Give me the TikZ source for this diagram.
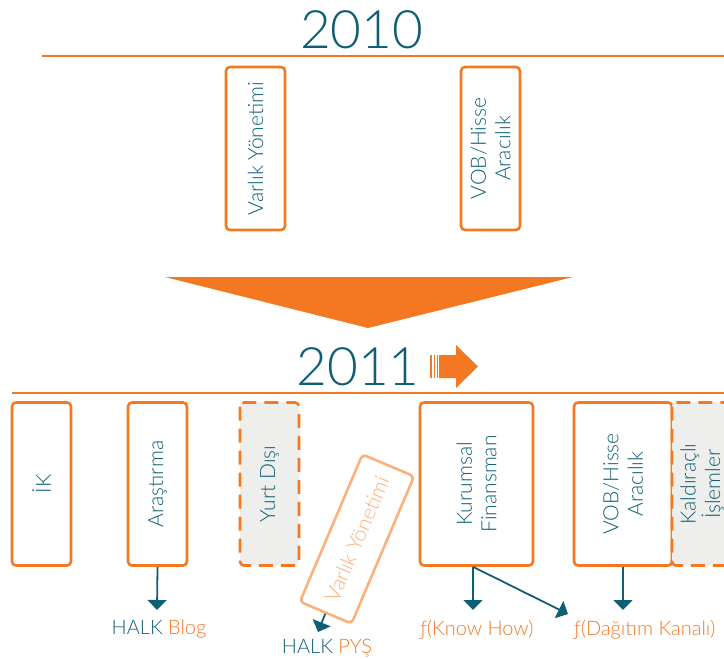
\documentclass[tikz,border=0pt]{standalone}
\usepackage{fontspec}
\setmainfont{Lato}[UprightFont={* Light}]
\usetikzlibrary{arrows.meta}
\definecolor{brandorange}{HTML}{F47721}
\definecolor{lightorange}{HTML}{FBB07D}
\definecolor{deepteal}{HTML}{0F5F74}
\definecolor{panelgray}{HTML}{EEEEEC}

\begin{document}
\begin{tikzpicture}[x=1pt,y=-1pt,
  unitbox/.style={draw=brandorange, line width=2.6pt, rounded corners=4pt,
    rotate=90, minimum width=163pt, minimum height=59pt, inner sep=0pt,
    text=deepteal, font=\fontsize{21}{24.5}\selectfont, align=center},
  plannedbox/.style={unitbox, dash pattern=on 14pt off 8pt, fill=panelgray},
  year/.style={text=deepteal, font=\fontsize{53}{53}\selectfont, inner sep=0pt, anchor=base},
  rule/.style={brandorange, line width=1.6pt},
  flow/.style={deepteal, line width=1.8pt, -{Triangle[width=19pt,length=10pt]}},
  outcome/.style={font=\fontsize{20}{20}\selectfont, anchor=base, inner sep=0pt}
]
\useasboundingbox (0,0) rectangle (724,659);
\clip (0,0) rectangle (724,659);

% 2010
\node[year] (y2010) at (361.5,48) {2010};
\draw[rule] (42,56) -- (724,56);
\node[unitbox] (vy10) at (255.5,148.5) {Varlık Yönetimi};
\node[unitbox] (vob10) at (490.5,148.5) {VOB/Hisse\\Aracılık};

% transition wedge
\fill[brandorange] (165,277) -- (573,277) -- (368,328) -- cycle;

% 2011
\node[year] (y2011) at (358,385) {2011};
\fill[brandorange] (439,355) -- (456,355) -- (456,345) -- (478,366.5) -- (456,388) -- (456,378) -- (439,378) -- cycle;
\foreach \sx in {430,433.5,436.5}
  \fill[brandorange] (\sx,355) rectangle ++(1.8,23);
\draw[rule] (12,393) -- (724,393);

\node[unitbox] (ik) at (41.5,484) {İK};
\node[unitbox] (ar) at (157.5,484) {Araştırma};
\node[plannedbox] (yd) at (269.5,484) {Yurt Dışı};
\node[unitbox, minimum height=113pt] (kf) at (476.5,484) {Kurumsal\\Finansman};
\node[unitbox, minimum height=98pt] (vob11) at (623,484) {VOB/Hisse\\Aracılık};
\node[plannedbox, minimum height=60pt] (kl) at (702,484) {Kaldıraçlı\\İşlemler};
\node[unitbox, draw=lightorange, text=lightorange, rotate=-23,
  minimum width=160pt, minimum height=56pt] (vy11) at (357,539) {Varlık Yönetimi};

% outcomes
\node[outcome] (blog) at (159,634) {\textcolor{deepteal}{HALK} \textcolor{brandorange}{Blog}};
\node[outcome] (pys) at (327,653) {\textcolor{deepteal}{HALK} \textcolor{brandorange}{PYŞ}};
\node[outcome, text=brandorange] (know) at (477,635) {ƒ(Know How)};
\node[outcome, text=brandorange] (dag) at (645,635) {ƒ(Dağıtım Kanalı)};

\coordinate (blogtip) at (157,610);
\coordinate (pystip) at (318,632);
\coordinate (knowtip) at (473,610);
\coordinate (dagtip) at (568,614);
\coordinate (vobtip) at (623,610);

\draw[flow] (ar.west) -- (blogtip);
\draw[flow] (vy11.west) -- (pystip);
\draw[flow] ([xshift=-3.5pt]kf.west) -- (knowtip);
\draw[flow] ([xshift=-3.5pt]kf.west) -- (dagtip);
\draw[flow] (vob11.west) -- (vobtip);
\end{tikzpicture}
\end{document}
